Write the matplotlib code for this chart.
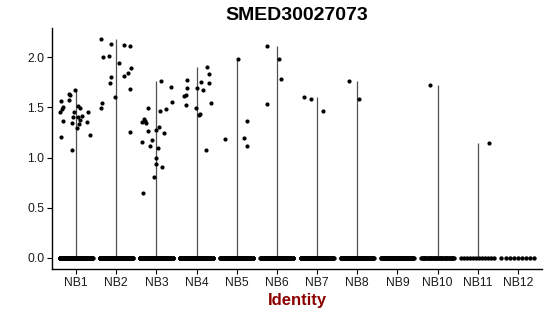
import matplotlib
matplotlib.use("Agg")
import matplotlib.pyplot as plt
import numpy as np

plt.rcParams['font.family'] = ['Liberation Sans', 'DejaVu Sans']

groups = ["NB1", "NB2", "NB3", "NB4", "NB5", "NB6",
          "NB7", "NB8", "NB9", "NB10", "NB11", "NB12"]

# non-zero expression values per group
nb1 = [1.671, 1.631, 1.62, 1.568, 1.575, 1.508, 1.488, 1.455, 1.515, 1.495, 1.458, 1.452,
       1.415, 1.402, 1.402, 1.365, 1.372, 1.352, 1.342, 1.335, 1.295, 1.226, 1.203, 1.079]
nb2 = [2.179, 2.133, 2.12, 2.113, 2.0, 2.01, 1.946, 1.896, 1.84, 1.814, 1.804, 1.74,
       1.687, 1.607, 1.548, 1.495, 1.253]
nb3 = [1.767, 1.707, 1.55, 1.482, 1.468, 1.498, 1.38, 1.365, 1.348, 1.352, 1.305, 1.272,
       1.269, 1.249, 1.176, 1.153, 1.119, 1.096, 0.996, 0.937, 0.91, 0.804, 0.651]
nb4 = [1.897, 1.834, 1.754, 1.744, 1.777, 1.694, 1.697, 1.677, 1.614, 1.62, 1.52, 1.498,
       1.545, 1.42, 1.43, 1.079]
nb5 = [1.98, 1.186, 1.199, 1.362, 1.113]
nb6 = [2.113, 1.983, 1.784, 1.538]
nb7 = [1.608, 1.585, 1.465]
nb8 = [1.764, 1.585]
nb9 = []
nb10 = [1.724]
nb11 = [1.146]
nb12 = []

# horizontal jitter of those points (fraction of a category)
jit1 = [-0.02, -0.17, -0.14, -0.38, -0.17, -0.32, -0.36, -0.40, 0.06, 0.11, -0.04, 0.30,
        0.14, 0.04, -0.07, -0.33, 0.11, 0.27, -0.10, 0.07, 0.03, 0.35, -0.38, -0.09]
jit2 = [-0.38, -0.12, 0.20, 0.35, -0.32, -0.19, 0.06, 0.37, 0.30, 0.20, -0.12, -0.15,
        0.34, -0.03, -0.36, -0.38, 0.34]
jit3 = [0.12, 0.37, 0.38, 0.24, 0.10, -0.21, -0.32, -0.29, -0.25, -0.35, 0.07, 0.0,
        -0.21, 0.18, -0.11, -0.35, -0.15, 0.03, 0.0, 0.0, 0.15, -0.07, -0.34]
jit4 = [0.25, 0.32, 0.10, 0.32, -0.25, -0.23, 0.01, 0.16, -0.32, -0.26, -0.26, -0.01,
        0.36, 0.05, 0.09, 0.24]
jit5 = [0.03, -0.29, 0.19, 0.26, 0.25]
jit6 = [-0.24, 0.06, 0.10, -0.25]
jit7 = [-0.33, -0.16, 0.14]
jit8 = [-0.21, 0.04]
jit9 = []
jit10 = [-0.18]
jit11 = [0.27]
jit12 = []

# number of cells with zero expression per group (estimated)
zero_counts = [300, 260, 280, 270, 220, 160, 130, 120, 70, 40, 12, 9]

values = [nb1, nb2, nb3, nb4, nb5, nb6, nb7, nb8, nb9, nb10, nb11, nb12]
jitters = [jit1, jit2, jit3, jit4, jit5, jit6, jit7, jit8, jit9, jit10, jit11, jit12]

fig = plt.figure(figsize=(5.5, 3.16), dpi=100)
ax = fig.add_axes([0.0945, 0.149, 0.891, 0.762])

pos = np.arange(1, len(groups) + 1)

# violins collapse to thin lines (almost all density sits at zero)
for p, v in zip(pos, values):
    if len(v) > 0:
        ax.vlines(p, 0, max(v), color='#505050', lw=0.9, zorder=1)

for p, v, j, n0 in zip(pos, values, jitters, zero_counts):
    zx = p + np.linspace(-0.41, 0.41, n0)
    ax.scatter(zx, np.zeros(n0), s=10, color='black', lw=0, zorder=2)
    if len(v) > 0:
        ax.scatter(p + np.array(j), v, s=9, color='black', lw=0, zorder=3)

ax.set_xlim(0.4, 12.6)
ax.set_ylim(-0.109, 2.289)
ax.set_xticks(pos)
ax.set_xticklabels(groups)
ax.set_yticks([0, 0.5, 1.0, 1.5, 2.0])
ax.set_yticklabels(["0.0", "0.5", "1.0", "1.5", "2.0"])
ax.tick_params(labelsize=8.7, length=3.5, width=0.8, colors='black', pad=2)
for lab in ax.get_xticklabels() + ax.get_yticklabels():
    lab.set_color('#1a1a1a')

for s in ['top', 'right']:
    ax.spines[s].set_visible(False)
for s in ['left', 'bottom']:
    ax.spines[s].set_linewidth(1.0)

ax.set_title("SMED30027073", fontsize=14, fontweight='bold', pad=6)
ax.set_xlabel("Identity", fontsize=12, fontweight='bold', color='#8B0000', labelpad=3)

fig.savefig("out.png", dpi=100)
